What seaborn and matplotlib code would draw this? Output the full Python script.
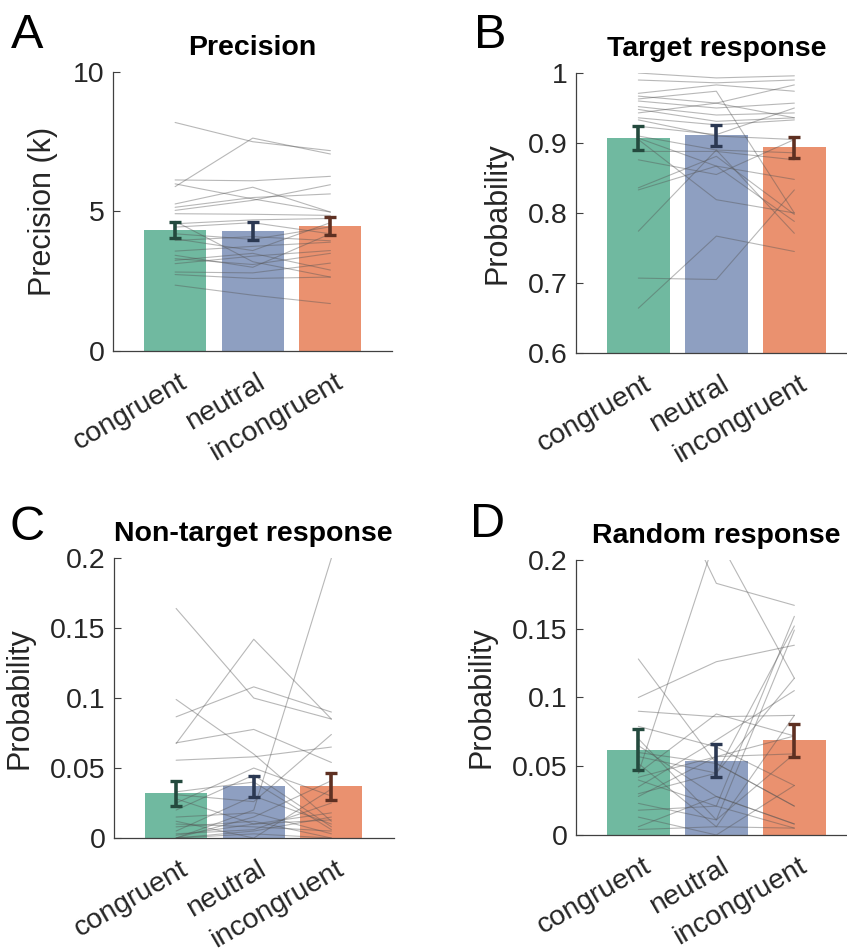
import numpy as np
import pandas as pd
import matplotlib
matplotlib.use("Agg")
import matplotlib.pyplot as plt
import matplotlib.transforms as mtransforms
import seaborn as sns

# ---------------- data ----------------
conditions = ["congruent", "neutral", "incongruent"]

# bar means and standard errors
precision_mean = [4.33, 4.30, 4.48]
precision_se = [0.28, 0.32, 0.32]
target_mean = [0.907, 0.911, 0.894]
target_se = [0.017, 0.015, 0.015]
nontarget_mean = [0.032, 0.037, 0.037]
nontarget_se = [0.009, 0.0075, 0.0095]
random_mean = [0.062, 0.054, 0.069]
random_se = [0.015, 0.012, 0.012]

# individual subjects: congruent, neutral, incongruent
precision_cong = [8.19, 5.89, 6.13, 5.99, 5.27, 5.15, 5.04, 4.92, 4.56, 4.44, 4.20,
                  4.02, 3.58, 3.43, 3.31, 3.13, 2.83, 2.74, 2.36, 3.25, 3.96, 4.65]
precision_neut = [7.50, 7.63, 6.10, 5.45, 5.87, 5.50, 5.40, 4.90, 4.70, 4.60, 4.00,
                  3.60, 3.75, 3.00, 3.10, 3.40, 2.80, 2.60, 2.00, 3.50, 4.10, 3.20]
precision_inc = [7.18, 7.06, 6.26, 4.98, 4.98, 5.63, 5.96, 4.86, 4.75, 4.20, 4.45,
                 4.60, 3.90, 4.20, 3.50, 3.60, 3.15, 2.65, 1.70, 2.90, 3.95, 2.65]

target_cong = [1.000, 0.990, 0.971, 0.963, 0.960, 0.952, 0.948, 0.943, 0.936, 0.933, 0.924,
               0.910, 0.907, 0.888, 0.876, 0.836, 0.833, 0.774, 0.707, 0.664, 0.905, 0.967]
target_neut = [0.993, 0.986, 0.983, 0.974, 0.950, 0.940, 0.931, 0.957, 0.926, 0.910, 0.912,
               0.890, 0.867, 0.888, 0.855, 0.881, 0.867, 0.890, 0.705, 0.767, 0.819, 0.957]
target_inc = [0.996, 0.990, 0.974, 0.800, 0.957, 0.943, 0.936, 0.983, 0.933, 0.905, 0.950,
              0.886, 0.848, 0.876, 0.905, 0.798, 0.788, 0.771, 0.833, 0.745, 0.800, 0.936]

nontarget_cong = [0.164, 0.000, 0.0675, 0.0866, 0.099, 0.068, 0.0556, 0.031, 0.000, 0.028, 0.008,
                  0.005, 0.010, 0.000, 0.033, 0.015, 0.003, 0.025, 0.000, 0.020, 0.002, 0.012]
nontarget_neut = [0.100, 0.020, 0.142, 0.108, 0.060, 0.0776, 0.058, 0.026, 0.015, 0.010, 0.012,
                  0.030, 0.008, 0.005, 0.040, 0.018, 0.006, 0.050, 0.003, 0.045, 0.010, 0.000]
nontarget_inc = [0.085, 0.200, 0.085, 0.090, 0.012, 0.054, 0.065, 0.074, 0.041, 0.018, 0.000,
                 0.010, 0.005, 0.015, 0.006, 0.003, 0.025, 0.030, 0.000, 0.008, 0.013, 0.035]

random_cong = [0.300, 0.045, 0.128, 0.100, 0.090, 0.079, 0.057, 0.045, 0.040, 0.035, 0.028,
               0.023, 0.013, 0.006, 0.004, 0.060, 0.052, 0.070, 0.030, 0.018, 0.065, 0.042]
random_neut = [0.183, 0.218, 0.052, 0.126, 0.086, 0.064, 0.045, 0.088, 0.021, 0.069, 0.057,
               0.011, 0.000, 0.028, 0.006, 0.052, 0.006, 0.011, 0.045, 0.021, 0.028, 0.057]
random_inc = [0.167, 0.114, 0.021, 0.138, 0.087, 0.036, 0.152, 0.072, 0.159, 0.105, 0.059,
              0.149, 0.036, 0.008, 0.005, 0.021, 0.087, 0.059, 0.114, 0.005, 0.008, 0.072]

# ---------------- style ----------------
sns.set_theme(style="white")
plt.rcParams["font.family"] = ["Liberation Sans", "DejaVu Sans"]

bar_colors = ["#70b9a0", "#8e9fc1", "#ea916f"]
err_colors = ["#244a3e", "#2b3852", "#5e3022"]
axis_col = "#404040"
text_col = "#262626"
TICK_FS = 20.5

fig = plt.figure(figsize=(8.47, 9.52), dpi=100)

panels = [
    dict(rect=[0.1334, 0.6313, 0.3300, 0.2931], mean=precision_mean, se=precision_se,
         subj=(precision_cong, precision_neut, precision_inc), ylim=(0, 10),
         yticks=[0, 5, 10], ylab=["0", "5", "10"], title="Precision",
         ylabel="Precision (k)", letter="A", letter_xy=(11, 48)),
    dict(rect=[0.6800, 0.6292, 0.3315, 0.2941], mean=target_mean, se=target_se,
         subj=(target_cong, target_neut, target_inc), ylim=(0.6, 1.0),
         yticks=[0.6, 0.7, 0.8, 0.9, 1.0], ylab=["0.6", "0.7", "0.8", "0.9", "1"],
         title="Target response", ylabel="Probability", letter="B", letter_xy=(474, 48)),
    dict(rect=[0.1346, 0.1197, 0.3300, 0.2941], mean=nontarget_mean, se=nontarget_se,
         subj=(nontarget_cong, nontarget_neut, nontarget_inc), ylim=(0, 0.2),
         yticks=[0, 0.05, 0.1, 0.15, 0.2], ylab=["0", "0.05", "0.1", "0.15", "0.2"],
         title="Non-target response", ylabel="Probability", letter="C", letter_xy=(9, 540)),
    dict(rect=[0.6800, 0.1229, 0.3315, 0.2889], mean=random_mean, se=random_se,
         subj=(random_cong, random_neut, random_inc), ylim=(0, 0.2),
         yticks=[0, 0.05, 0.1, 0.15, 0.2], ylab=["0", "0.05", "0.1", "0.15", "0.2"],
         title="Random response", ylabel="Probability", letter="D", letter_xy=(470, 537)),
]

for p in panels:
    ax = fig.add_axes(p["rect"])
    bar_df = pd.DataFrame({"condition": conditions, "value": p["mean"]})
    sns.barplot(data=bar_df, x="condition", y="value", hue="condition",
                palette=bar_colors, saturation=1, width=0.8, errorbar=None,
                legend=False, ax=ax, zorder=1)
    for patch in ax.patches:
        patch.set_edgecolor("none")

    c, n, i = p["subj"]
    nsub = len(c)
    long_df = pd.DataFrame({
        "subject": np.tile(np.arange(nsub), 3),
        "pos": np.repeat([0, 1, 2], nsub),
        "value": np.concatenate([c, n, i]),
    })
    sns.lineplot(data=long_df, x="pos", y="value", units="subject", estimator=None,
                 color="#555555", alpha=0.42, linewidth=0.8, ax=ax, zorder=2)

    for k in range(3):
        ax.errorbar(k, p["mean"][k], yerr=p["se"][k], fmt="none",
                    ecolor=err_colors[k], elinewidth=2.6, capsize=4, capthick=2.4,
                    zorder=3)

    ax.set_xlim(-0.8, 2.8)
    ax.set_ylim(*p["ylim"])
    ax.set_yticks(p["yticks"])
    ax.set_yticklabels(p["ylab"])
    ax.set_xticks([0, 1, 2])

    ax.set_xlabel("")
    ax.set_ylabel(p["ylabel"], fontsize=22, color=text_col, labelpad=11)
    ax.set_title(p["title"], fontsize=20.5, fontweight="bold", color="black", pad=12)

    for s in ["top", "right"]:
        ax.spines[s].set_visible(False)
    for s in ["left", "bottom"]:
        ax.spines[s].set_color(axis_col)
        ax.spines[s].set_linewidth(0.9)
    ax.tick_params(axis="y", direction="in", length=5, width=0.8, color=axis_col,
                   labelsize=TICK_FS, labelcolor=text_col, pad=6, left=True)
    ax.tick_params(axis="x", length=0, labelsize=TICK_FS, labelcolor=text_col, pad=0)
    ax.grid(False)

    # rotated category labels, set after tick_params so the offset is kept
    ax.set_xticklabels(conditions, rotation=30, ha="right", va="top",
                       rotation_mode="anchor", fontsize=TICK_FS, color=text_col)
    offset = mtransforms.ScaledTranslation(4 / 100, -18 / 100, fig.dpi_scale_trans)
    for lab in ax.get_xticklabels():
        lab.set_transform(lab.get_transform() + offset)

    lx, ly = p["letter_xy"]
    fig.text(lx / 847, 1 - ly / 952, p["letter"], fontsize=35, color="black",
             ha="left", va="baseline")

fig.savefig("out.png", dpi=100)
